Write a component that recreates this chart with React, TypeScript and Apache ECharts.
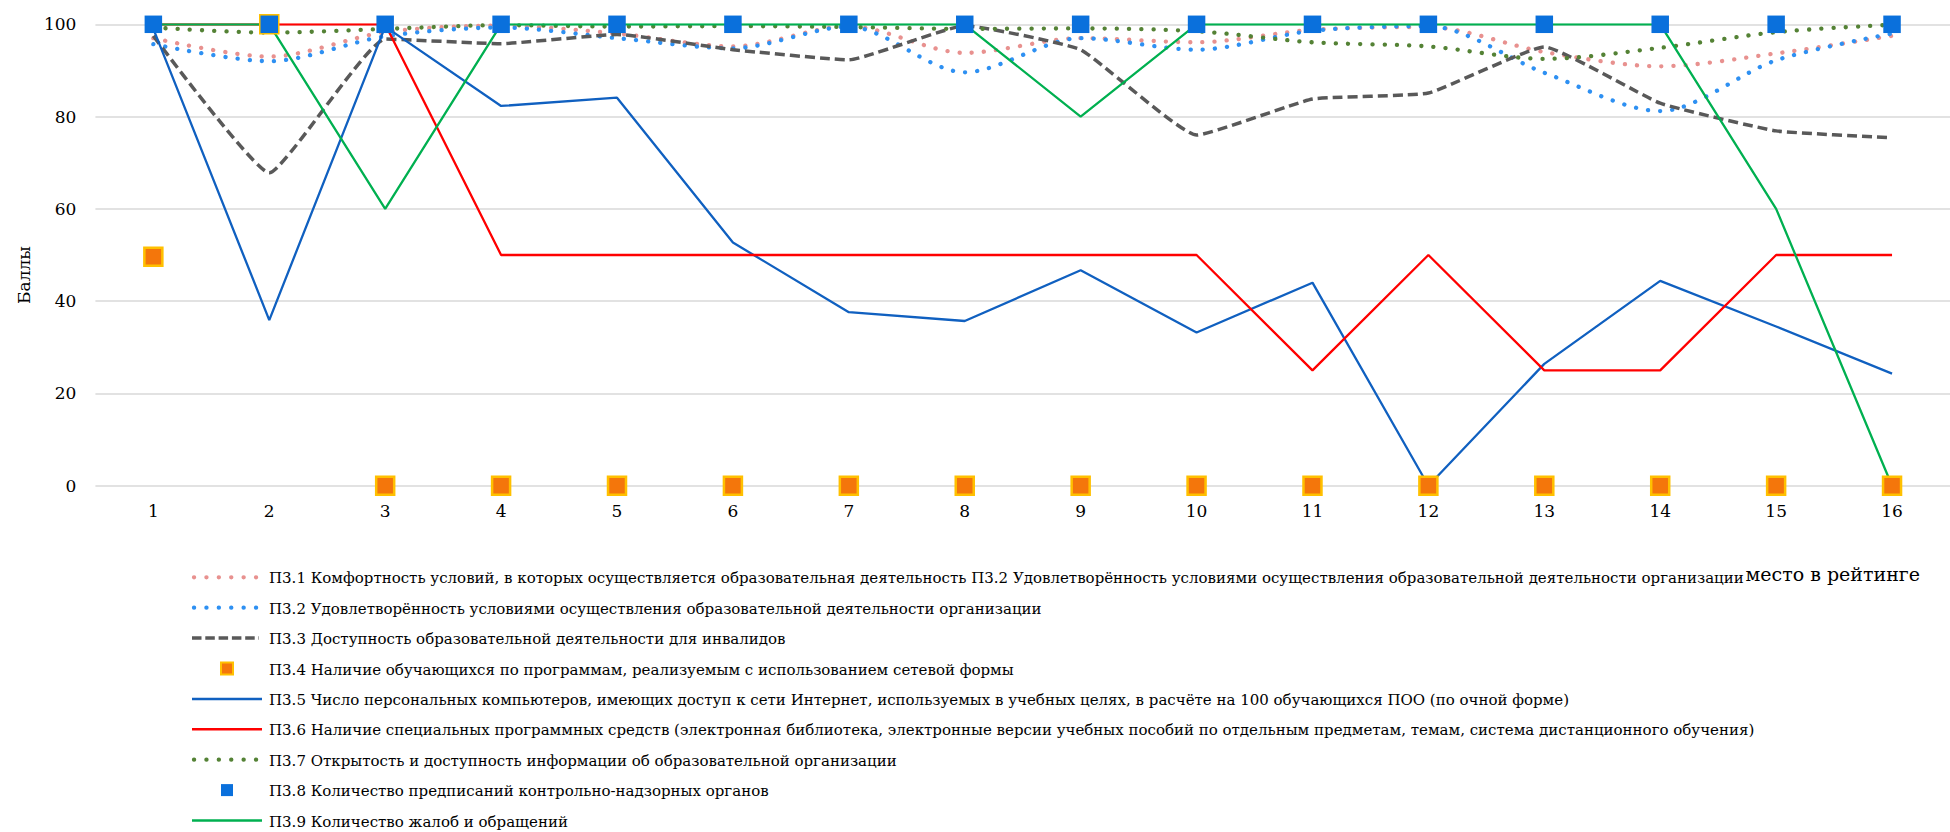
import React, { useEffect, useRef } from 'react';
import * as echarts from 'echarts';

// ---------- data ----------
const categories = ['1', '2', '3', '4', '5', '6', '7', '8', '9', '10', '11', '12', '13', '14', '15', '16'];

const p31 = [97, 93, 98.3, 99.7, 98, 95.2, 99.6, 93.8, 97, 96.1, 98.8, 99.4, 94, 90.9, 93.7, 97.5];
const p32 = [95.7, 92, 97.4, 99.3, 97, 94.8, 99.5, 89.6, 97, 94.5, 98.6, 99.6, 89.5, 81.2, 92.2, 98];
const p33 = [97.5, 67.8, 96.8, 95.8, 97.8, 94.5, 92.3, 99.7, 94.5, 76, 83.8, 85.1, 95.1, 82.9, 76.9, 75.4];
const p34 = [49.6, 100, 0, 0, 0, 0, 0, 0, 0, 0, 0, 0, 0, 0, 0, 0];
const p35 = [99, 35.9, 99.5, 82.3, 84.1, 52.7, 37.6, 35.7, 46.7, 33.2, 44, 0, 26.4, 44.4, 34.5, 24.3];
const p36 = [100, 100, 100, 50, 50, 50, 50, 50, 50, 50, 25, 50, 25, 25, 50, 50];
const p37 = [99.3, 98.2, 99, 99.8, 99.5, 99.6, 99.4, 99, 99.1, 98.5, 96.1, 95.2, 92.5, 94.9, 98.3, 99.9];
const p38 = [100, 100, 100, 100, 100, 100, 100, 100, 100, 100, 100, 100, 100, 100, 100, 100];
const p39 = [100, 100, 60, 100, 100, 100, 100, 100, 80, 100, 100, 100, 100, 100, 60, 0];

const yTicks = { min: 0, max: 100, interval: 20 };

const seriesNames = [
  'П3.1 Комфортность условий, в которых осуществляется образовательная деятельность П3.2 Удовлетворённость условиями осуществления образовательной деятельности организации',
  'П3.2 Удовлетворённость условиями осуществления образовательной деятельности организации',
  'П3.3 Доступность образовательной деятельности для инвалидов',
  'П3.4 Наличие обучающихся по программам, реализуемым с использованием сетевой формы',
  'П3.5 Число персональных компьютеров, имеющих доступ к сети Интернет, используемых в учебных целях, в расчёте на 100 обучающихся ПОО (по очной форме)',
  'П3.6 Наличие специальных программных средств (электронная библиотека, электронные версии учебных пособий по отдельным предметам, темам, система дистанционного обучения)',
  'П3.7 Открытость и доступность информации об образовательной организации',
  'П3.8 Количество предписаний контрольно-надзорных органов',
  'П3.9 Количество жалоб и обращений',
];

const yAxisName = 'Баллы';
const xAxisName = 'место в рейтинге';

const seriesValues = [p31, p32, p33, p34, p35, p36, p37, p38, p39];

// ---------- styles ----------
type Kind = 'dotted' | 'dashed' | 'solid' | 'marker';
interface SStyle { kind: Kind; color: string; border?: string; size?: number; z?: number }
const seriesStyles: SStyle[] = [
  { kind: 'dotted', color: '#E8918F' },
  { kind: 'dotted', color: '#2E90F2' },
  { kind: 'dashed', color: '#595959' },
  { kind: 'marker', color: '#F4760B', border: '#FFC000', size: 18, z: 3 },
  { kind: 'solid', color: '#1060C0' },
  { kind: 'solid', color: '#FF0000' },
  { kind: 'dotted', color: '#548235' },
  { kind: 'marker', color: '#0A70DC', size: 17.5, z: 4 },
  { kind: 'solid', color: '#00B050' },
];

const FONT = 'DejaVu Serif';
const TEXT = '#000000';

function lineStyleOf(s: SStyle) {
  if (s.kind === 'dotted') return { color: s.color, width: 4.3, type: [0.1, 12.1], cap: 'round' };
  if (s.kind === 'dashed') return { color: s.color, width: 3.5, type: [10, 5], cap: 'butt' };
  if (s.kind === 'solid') return { color: s.color, width: 2.3, type: 'solid' };
  return { color: s.color, width: 0, opacity: 0 };
}

function buildGraphics() {
  const els: any[] = [];
  const y0 = 577.3;
  const step = 30.4;
  seriesStyles.forEach((s, i) => {
    const y = y0 + i * step;
    if (s.kind === 'dotted') {
      els.push({ type: 'line', silent: true, shape: { x1: 194, y1: y, x2: 256.5, y2: y },
        style: { stroke: s.color, lineWidth: 4.3, lineDash: [0.1, 12.3], lineCap: 'round' } });
    } else if (s.kind === 'dashed') {
      els.push({ type: 'line', silent: true, shape: { x1: 192, y1: y, x2: 259, y2: y },
        style: { stroke: s.color, lineWidth: 3.5, lineDash: [9.5, 3.8] } });
    } else if (s.kind === 'solid') {
      els.push({ type: 'line', silent: true, shape: { x1: 192, y1: y, x2: 262, y2: y },
        style: { stroke: s.color, lineWidth: 2.5 } });
    } else {
      els.push({ type: 'rect', silent: true, shape: { x: 221, y: y - 6, width: 12, height: 12 },
        style: s.border ? { fill: s.color, stroke: s.border, lineWidth: 2 } : { fill: s.color } });
    }
    els.push({ type: 'text', silent: true, x: 269, y: y + 1,
      style: { text: seriesNames[i], fontSize: 15, fontFamily: FONT, fill: TEXT, align: 'left', verticalAlign: 'middle' } });
  });
  els.push({ type: 'text', silent: true, x: 23.5, y: 275, rotation: Math.PI / 2,
    style: { text: yAxisName, fontSize: 17, fontFamily: FONT, fill: TEXT, align: 'center', verticalAlign: 'middle' } });
  els.push({ type: 'text', silent: true, x: 1920, y: 574,
    style: { text: xAxisName, fontSize: 19, fontFamily: FONT, fill: TEXT, align: 'right', verticalAlign: 'middle' } });
  return els;
}

export default function App() {
  const ref = useRef<HTMLDivElement>(null);
  useEffect(() => {
    if (!ref.current) return;
    const chart = echarts.init(ref.current, null, { renderer: 'svg' });
    chart.setOption({
      animation: false,
      backgroundColor: '#ffffff',
      textStyle: { fontFamily: FONT },
      grid: { left: 95.4, top: 24.3, width: 1868, height: 461.4, containLabel: false },
      xAxis: {
        type: 'category',
        data: categories,
        boundaryGap: true,
        axisLine: { show: false },
        axisTick: { show: false },
        axisLabel: { color: TEXT, fontFamily: FONT, fontSize: 17, margin: 17 },
        splitLine: { show: false },
      },
      yAxis: {
        type: 'value',
        min: yTicks.min,
        max: yTicks.max,
        interval: yTicks.interval,
        axisLine: { show: false },
        axisTick: { show: false },
        axisLabel: { color: TEXT, fontFamily: FONT, fontSize: 17, margin: 19 },
        splitLine: { show: true, lineStyle: { color: '#D9D9D9', width: 1.5 } },
      },
      series: seriesStyles.map((s, i) => ({
        name: seriesNames[i],
        type: 'line',
        data: seriesValues[i],
        silent: true,
        smooth: s.kind === 'dotted' ? 0.3 : s.kind === 'dashed' ? 0.12 : false,
        symbol: s.kind === 'marker' ? 'rect' : 'none',
        symbolSize: s.size ?? 10,
        showAllSymbol: true,
        itemStyle: s.kind === 'marker'
          ? (s.border ? { color: s.color, borderColor: s.border, borderWidth: 2.5 } : { color: s.color })
          : { color: s.color },
        lineStyle: lineStyleOf(s),
        z: s.z ?? 2,
        emphasis: { disabled: true },
      })),
      graphic: buildGraphics(),
    });
    return () => chart.dispose();
  }, []);
  return <div ref={ref} style={{ position: 'fixed', left: 0, top: 0, width: 1950, height: 832, background: '#fff' }} />;
}
